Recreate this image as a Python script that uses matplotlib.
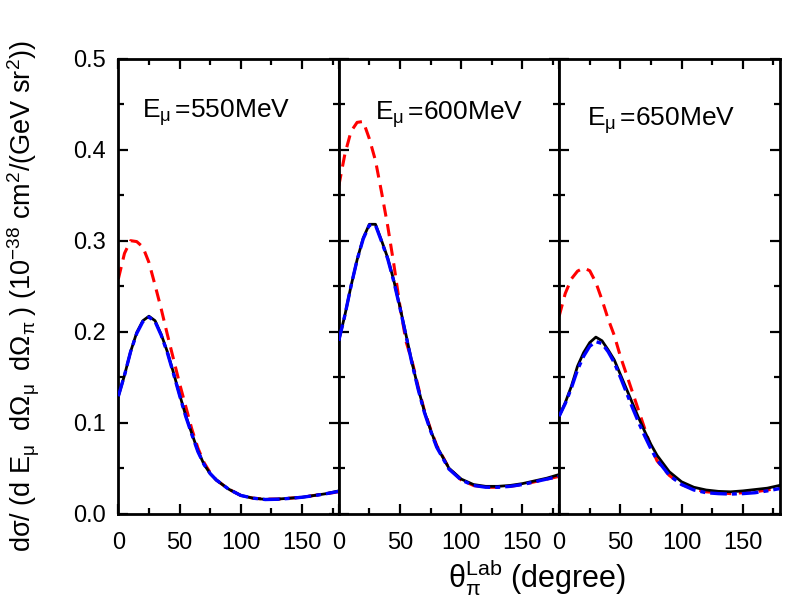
import matplotlib
matplotlib.use("Agg")
import matplotlib.pyplot as plt
from matplotlib.ticker import MultipleLocator

plt.rcParams['font.family'] = ['Liberation Sans', 'DejaVu Sans']
plt.rcParams['mathtext.fontset'] = 'custom'
plt.rcParams['mathtext.rm'] = 'Liberation Sans'
plt.rcParams['mathtext.it'] = 'Liberation Sans'
plt.rcParams['mathtext.default'] = 'regular'

theta = [0, 5, 10, 15, 20, 25, 30, 35, 40, 45, 50, 55, 60, 65, 70, 75, 80,
         90, 100, 110, 120, 130, 140, 150, 160, 170, 180]

energies = ["550", "600", "650"]

# 550 MeV
black_550 = [0.129, 0.152, 0.178, 0.199, 0.212, 0.217, 0.212, 0.197, 0.178, 0.155, 0.131,
             0.108, 0.088, 0.069, 0.054, 0.044, 0.037, 0.027, 0.020, 0.017, 0.0157,
             0.016, 0.017, 0.018, 0.020, 0.022, 0.025]
blue_550 = [0.129, 0.152, 0.178, 0.198, 0.211, 0.216, 0.211, 0.196, 0.177, 0.154, 0.130,
            0.107, 0.087, 0.068, 0.054, 0.044, 0.037, 0.027, 0.020, 0.017, 0.0155,
            0.0158, 0.0168, 0.018, 0.0198, 0.022, 0.0245]
red_550 = [0.258, 0.286, 0.300, 0.299, 0.293, 0.276, 0.251, 0.225, 0.197, 0.170, 0.143,
           0.118, 0.093, 0.072, 0.056, 0.045, 0.037, 0.027, 0.020, 0.017, 0.016,
           0.016, 0.017, 0.018, 0.020, 0.022, 0.024]

# 600 MeV
black_600 = [0.190, 0.218, 0.250, 0.279, 0.303, 0.318, 0.318, 0.300, 0.281, 0.256, 0.227,
             0.196, 0.165, 0.137, 0.112, 0.092, 0.074, 0.050, 0.038, 0.032, 0.030,
             0.030, 0.031, 0.033, 0.036, 0.039, 0.043]
blue_600 = [0.190, 0.218, 0.250, 0.279, 0.302, 0.317, 0.317, 0.299, 0.280, 0.255, 0.226,
            0.195, 0.164, 0.136, 0.111, 0.091, 0.073, 0.049, 0.037, 0.031, 0.029,
            0.029, 0.030, 0.032, 0.035, 0.038, 0.041]
red_600 = [0.360, 0.395, 0.420, 0.430, 0.431, 0.412, 0.388, 0.353, 0.316, 0.274, 0.228,
           0.189, 0.167, 0.139, 0.113, 0.093, 0.075, 0.050, 0.037, 0.031, 0.029,
           0.029, 0.030, 0.032, 0.035, 0.038, 0.041]

# 650 MeV
black_650 = [0.107, 0.122, 0.140, 0.162, 0.177, 0.188, 0.194, 0.190, 0.180, 0.169, 0.153,
             0.137, 0.121, 0.105, 0.090, 0.076, 0.064, 0.046, 0.035, 0.029, 0.026,
             0.0245, 0.024, 0.025, 0.0265, 0.028, 0.031]
blue_650 = [0.107, 0.121, 0.138, 0.158, 0.173, 0.184, 0.189, 0.187, 0.178, 0.166, 0.150,
            0.133, 0.116, 0.100, 0.085, 0.071, 0.059, 0.042, 0.032, 0.026, 0.023,
            0.022, 0.0215, 0.022, 0.023, 0.025, 0.0275]
red_650 = [0.217, 0.242, 0.258, 0.2665, 0.270, 0.267, 0.254, 0.235, 0.214, 0.196, 0.173,
           0.153, 0.133, 0.113, 0.093, 0.073, 0.058, 0.042, 0.032, 0.027, 0.024,
           0.023, 0.022, 0.023, 0.024, 0.026, 0.028]

blacks = [black_550, black_600, black_650]
blues = [blue_550, blue_600, blue_650]
reds = [red_550, red_600, red_650]
label_pos = [(19, 0.435), (30, 0.433), (23, 0.426)]

fig, axes = plt.subplots(1, 3, figsize=(7.89, 6.05), dpi=100, sharey=True)
fig.subplots_adjust(left=0.150, right=0.988, bottom=0.151, top=0.903, wspace=0)

for i, ax in enumerate(axes):
    ax.plot(theta, reds[i], color='red', ls=(0, (4, 2.5)), lw=2.2, zorder=2)
    ax.plot(theta, blacks[i], color='black', ls='-', lw=2.0, zorder=3)
    ax.plot(theta, blues[i], color='blue', ls=(0, (5, 1.5, 1.5, 1.5)), lw=2.4, zorder=4)

    ax.text(label_pos[i][0], label_pos[i][1], "E$_{\\mu}\\,$=" + energies[i] + "MeV",
            fontsize=19, va='baseline', ha='left')

    ax.set_xlim(0, 180)
    ax.set_ylim(0, 0.5)
    ax.xaxis.set_major_locator(MultipleLocator(50))
    ax.xaxis.set_minor_locator(MultipleLocator(25))
    ax.yaxis.set_major_locator(MultipleLocator(0.1))
    ax.yaxis.set_minor_locator(MultipleLocator(0.05))
    ax.tick_params(which='both', direction='in', top=True, right=True, width=1.6,
                   labelsize=17, pad=9)
    ax.tick_params(axis='x', which='both', pad=13)
    ax.tick_params(which='major', length=7)
    ax.tick_params(which='minor', length=4)
    for sp in ax.spines.values():
        sp.set_linewidth(2)

axes[0].yaxis.set_major_formatter(plt.FormatStrFormatter('%.1f'))

fig.text(0.68, 0.045, "$\\theta_\\pi^{Lab}$ (degree)", ha='center', va='center', fontsize=22)
fig.text(0.03, 0.51, "d\u03c3/ (d E$_\\mu$\u2009 d\u03a9$_\\mu$\u2009 d\u03a9$_\\pi$\u2009) (10$^{-38}$ cm$^2$/(GeV sr$^2$))",
         rotation=90, ha='center', va='center', fontsize=19.5)

fig.savefig("out.png", dpi=100)
